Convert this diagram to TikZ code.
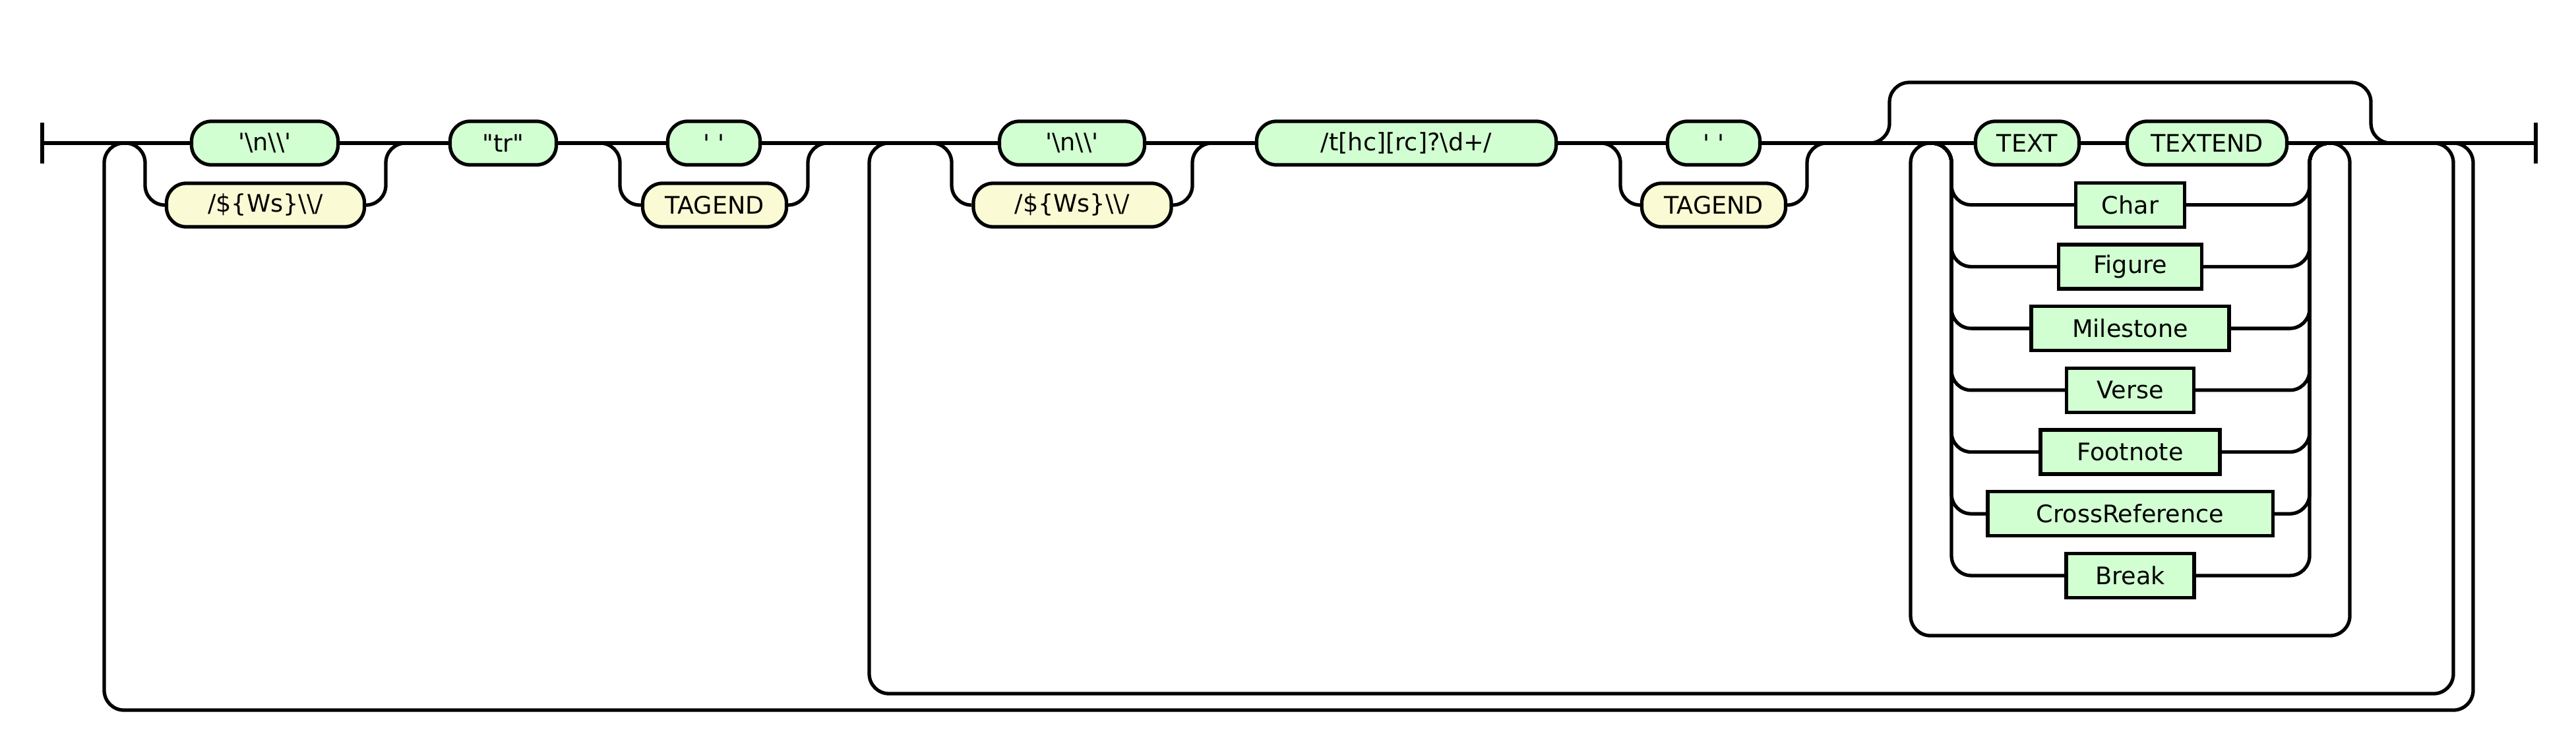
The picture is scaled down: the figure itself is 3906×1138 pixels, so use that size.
\documentclass[tikz,border=0pt]{standalone}
\usepackage{fontspec}
\setmainfont{DejaVu Sans}
\usetikzlibrary{backgrounds}
\definecolor{tg}{RGB}{210,255,210}
\definecolor{ty}{RGB}{250,250,212}
\tikzset{
  rail/.style={line width=1.5pt},
  rr/.style={rounded corners=0.3cm},
  term/.style={draw, line width=1.5pt, fill=tg, rounded corners=0.3cm,
    minimum height=0.66cm, inner sep=0pt, font=\fontsize{10.4pt}{12pt}\selectfont},
  nterm/.style={term, fill=ty},
  refbox/.style={term, sharp corners, minimum height=0.67cm},
}
\newcommand{\bs}{\textbackslash}
\newcommand{\sq}{\textquotesingle}
\begin{document}
\begin{tikzpicture}[x=0.01cm, y=-0.01cm]
\useasboundingbox (0,0) rectangle (3906,1138);
\coordinate (start) at (64,217);
\coordinate (end) at (3845,217);
% section 1
\node[term, minimum width=2.22cm] (A1) at (401.5,217) {\sq\bs n\bs\bs\sq};
\node[nterm, minimum width=3.00cm] (B1) at (402.5,311) {/\$\{Ws\}\bs\bs/};
\node[term, minimum width=1.61cm] (tr) at (763,217) {\textquotedbl tr\textquotedbl};
\node[term, minimum width=1.40cm] (C1) at (1082.5,217) {\sq{} \sq};
\node[nterm, minimum width=2.18cm] (D1) at (1083.5,311) {TAGEND};
% section 2
\node[term, minimum width=2.20cm] (A2) at (1625.5,217) {\sq\bs n\bs\bs\sq};
\node[nterm, minimum width=3.00cm] (B2) at (1626,311) {/\$\{Ws\}\bs\bs/};
\node[term, minimum width=4.54cm] (E) at (2132.5,217) {/t[hc][rc]?\bs d+/};
\node[term, minimum width=1.40cm] (C2) at (2598.5,217) {\sq{} \sq};
\node[nterm, minimum width=2.18cm] (D2) at (2598.5,311) {TAGEND};
% choice block
\node[term, minimum width=1.57cm] (TX) at (3074,217) {TEXT};
\node[term, minimum width=2.42cm] (TXE) at (3346.5,217) {TEXTEND};
\node[refbox, minimum width=1.65cm] (Char) at (3230,310.7) {Char};
\node[refbox, minimum width=2.17cm] (Figure) at (3230,404.4) {Figure};
\node[refbox, minimum width=3.00cm] (Milestone) at (3230,498.1) {Milestone};
\node[refbox, minimum width=1.93cm] (Verse) at (3230,591.8) {Verse};
\node[refbox, minimum width=2.72cm] (Footnote) at (3230,685.5) {Footnote};
\node[refbox, minimum width=4.32cm] (CrossRef) at (3230,779.2) {CrossReference};
\node[refbox, minimum width=1.94cm] (Break) at (3230,872.9) {Break};

\begin{scope}[on background layer]
  % main line and end bars
  \draw[rail] (start) -- (end);
  \draw[rail] ([yshift=0.31cm]start) -- ([yshift=-0.31cm]start);
  \draw[rail] ([yshift=0.31cm]end) -- ([yshift=-0.31cm]end);
  % outer loop 1
  \draw[rail,rr] (3690,217) -- (3750,217) -- (3750,1077) -- (158,1077) -- (158,217) -- (218,217);
  % loop 2
  \draw[rail,rr] (3660,217) -- (3720,217) -- (3720,1052) -- (1318,1052) -- (1318,217) -- (1378,217);
  % loop 3
  \draw[rail,rr] (3503,217) -- (3563,217) -- (3563,964) -- (2897,964) -- (2897,217) -- (2957,217);
  % bypass over the choice block
  \draw[rail,rr] (2805,217) -- (2865,217) -- (2865,125) -- (3595,125) -- (3595,217) -- (3655,217);
  % choices
  \draw[rail,rr] (160,217) -- (220,217) |- (B1.west);
  \draw[rail,rr] (B1.east) -| (585,217) -- (645,217);
  \draw[rail,rr] (880,217) -- (940,217) |- (D1.west);
  \draw[rail,rr] (D1.east) -| (1225,217) -- (1285,217);
  \draw[rail,rr] (1383,217) -- (1443,217) |- (B2.west);
  \draw[rail,rr] (B2.east) -| (1808,217) -- (1868,217);
  \draw[rail,rr] (2397,217) -- (2457,217) |- (D2.west);
  \draw[rail,rr] (D2.east) -| (2740,217) -- (2800,217);
  % choice block rows
  \foreach \n in {Char,Figure,Milestone,Verse,Footnote,CrossRef,Break}{
    \draw[rail,rr] (2899,217) -- (2959,217) |- (\n.west);
    \draw[rail,rr] (\n.east) -| (3502,217) -- (3562,217);
  }
\end{scope}
\end{tikzpicture}
\end{document}
